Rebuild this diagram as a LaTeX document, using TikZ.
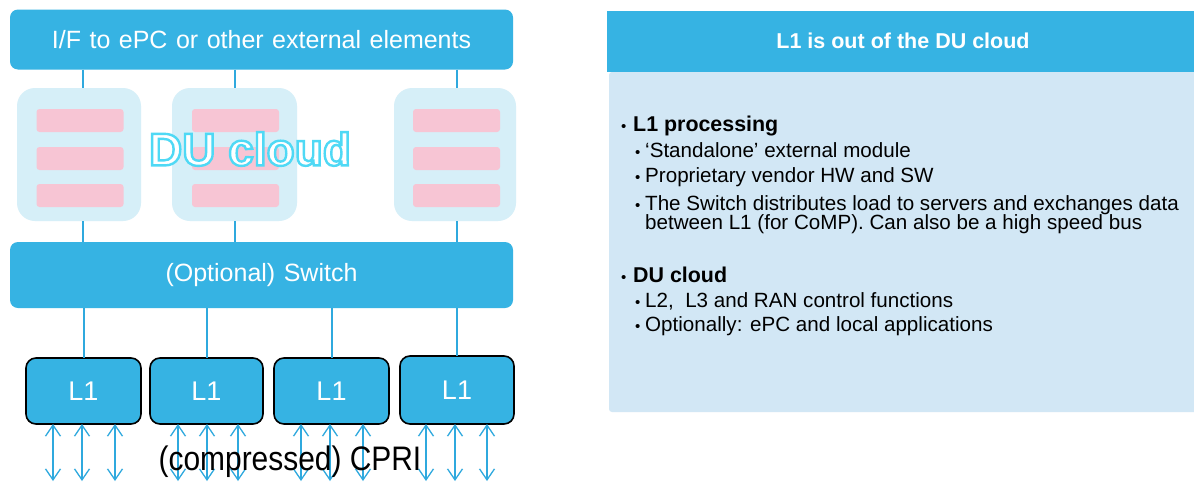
\documentclass[tikz,border=0pt]{standalone}
\usepackage{fontspec}
\setmainfont{Liberation Sans}
\newfontfamily\condfont[FakeStretch=0.88]{Liberation Sans}
\usetikzlibrary{arrows.meta,calc}
\definecolor{mainblue}{HTML}{36B3E3}
\definecolor{srvblue}{HTML}{D6EFF8}
\definecolor{barpink}{HTML}{F7C5D4}
\definecolor{panelblue}{HTML}{D2E7F5}
\definecolor{linkblue}{HTML}{2FA9DE}
\newcommand\outlinetext[1]{\special{pdf:literal direct 2 Tr 2.4 w 0.31 0.85 0.96 RG}#1\special{pdf:literal direct 0 Tr}}
\tikzset{
  bar/.style={fill=mainblue, rounded corners=8pt, inner sep=0pt, outer sep=0pt, text=white, font=\fontsize{25}{28}\selectfont},
  srv/.style={fill=srvblue, rounded corners=18pt, inner sep=0pt, outer sep=0pt, minimum height=133pt},
  pink/.style={fill=barpink, rounded corners=3pt, inner sep=0pt, outer sep=0pt, minimum width=87pt, minimum height=23pt},
  lone/.style={fill=mainblue, draw=black, line width=1.6pt, rounded corners=10pt, inner sep=0pt, outer sep=0pt, minimum height=66pt, text=white, font=\fontsize{27}{30}\selectfont},
  link/.style={draw=linkblue, line width=1.4pt},
  arr/.style={draw=linkblue, line width=1.3pt, {Straight Barb[length=11pt,width=15pt]}-{Straight Barb[length=11pt,width=15pt]}},
  dutext/.style={font=\fontsize{46}{50}\selectfont\bfseries, inner sep=0pt},
  ptext/.style={anchor=base west, inner sep=0pt, font=\fontsize{20.6}{23}\selectfont},
  phead/.style={anchor=base west, inner sep=0pt, font=\fontsize{21.4}{24}\selectfont\bfseries},
  pbul/.style={anchor=base west, inner sep=0pt, font=\fontsize{15}{16}\selectfont},
}
\begin{document}
\begin{tikzpicture}[x=1pt,y=-1pt]
\useasboundingbox (0,0) rectangle (1194,482);
\fill[white] (0,0) rectangle (1194,482);

% ---------- left diagram ----------
\node[bar, minimum width=503pt, minimum height=60pt] (top) at (261.5,39.5) {\spaceskip=8.5pt I/F to ePC or other external elements};

\node[srv, minimum width=124pt] (srv1) at (79,154.5) {};
\node[srv, minimum width=125pt] (srv2) at (234.5,154.5) {};
\node[srv, minimum width=122pt] (srv3) at (455,154.5) {};

\foreach \s/\x in {1/80,2/235.5,3/456.5}{
  \node[pink] (p\s a) at (\x,120.5) {};
  \node[pink] (p\s b) at (\x,158.5) {};
  \node[pink] (p\s c) at (\x,195.5) {};
}

% DU cloud outlined text
\node[dutext, text=white] (du) at (250,149) {\outlinetext{DU cloud}};

\node[bar, minimum width=503pt, minimum height=66pt] (sw) at (261.5,275) {\spaceskip=8.5pt (Optional) Switch};

\coordinate (x1) at (83,0);
\coordinate (x2) at (235,0);
\coordinate (x3) at (457,0);
\draw[link] (top.south -| x1) -- (srv1.north -| x1);
\draw[link] (top.south -| x2) -- (srv2.north -| x2);
\draw[link] (top.south -| x3) -- (srv3.north -| x3);
\draw[link] (srv1.south -| x1) -- (sw.north -| x1);
\draw[link] (srv2.south -| x2) -- (sw.north -| x2);
\draw[link] (srv3.south -| x3) -- (sw.north -| x3);

\node[lone, minimum width=115pt] (la) at (83.5,391) {L1};
\node[lone, minimum width=113pt] (lb) at (206.5,391) {L1};
\node[lone, minimum width=115pt] (lc) at (331.5,391) {L1};
\node[lone, minimum width=114pt, minimum height=68pt] (ld) at (457,390) {L1};

\coordinate (y1) at (84,0);
\coordinate (y2) at (207,0);
\coordinate (y3) at (332,0);
\coordinate (y4) at (457,0);
\draw[link] (la.north -| y1) -- (sw.south -| y1);
\draw[link] (lb.north -| y2) -- (sw.south -| y2);
\draw[link] (lc.north -| y3) -- (sw.south -| y3);
\draw[link] (ld.north -| y4) -- (sw.south -| y4);

\foreach \n/\l/\x in {a1/la/53,a2/la/82,a3/la/115,b1/lb/178,b2/lb/207,b3/lb/238,c1/lc/301,c2/lc/330,c3/lc/363,d1/ld/426,d2/ld/455,d3/ld/487}{
  \coordinate (e\n) at (\x,481);
  \draw[arr] (e\n |- \l.south) -- (e\n);
}

\node[anchor=base, inner sep=0pt, font=\condfont\fontsize{34}{37}\selectfont] (cpri) at (290,470) {(compressed)\ CPRI};

% ---------- right panel ----------
\fill[panelblue, rounded corners=3pt] (609,72) rectangle (1200,412);
\fill[mainblue] (607,11) rectangle (1194,72);
\node[anchor=base, inner sep=0pt, text=white, font=\fontsize{21.5}{24}\selectfont\bfseries] (hdr) at (903,48) {L1 is out of the DU cloud};

\node[pbul] (b1) at (621,131) {•};
\node[phead] (t1) at (633,131) {L1 processing};
\node[pbul] (b2) at (635,157) {•};
\node[ptext] (t2) at (645,157) {‘Standalone’ external module};
\node[pbul] (b3) at (635,182) {•};
\node[ptext] (t3) at (645,182) {Proprietary vendor HW and SW};
\node[pbul] (b4) at (635,210) {•};
\node[ptext] (t4) at (645,210) {The Switch distributes load to servers and exchanges data};
\node[ptext] (t5) at (645,229) {between L1 (for CoMP). Can also be a high speed bus};
\node[pbul] (b6) at (621,282) {•};
\node[phead] (t6) at (633,282) {DU cloud};
\node[pbul] (b7) at (635,307) {•};
\node[ptext] (t7) at (645,307) {L2,\ \ L3 and RAN control functions};
\node[pbul] (b8) at (635,331) {•};
\node[ptext] (t8) at (645,331) {Optionally: ePC and local applications};
\end{tikzpicture}
\end{document}
